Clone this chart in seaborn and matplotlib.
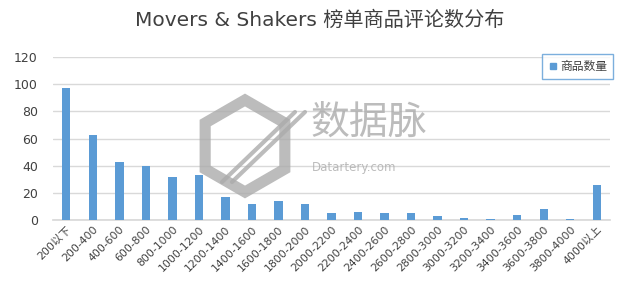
import matplotlib
matplotlib.use("Agg")
import matplotlib.pyplot as plt
import seaborn as sns
import pandas as pd
import numpy as np
from matplotlib.patches import RegularPolygon
from matplotlib.lines import Line2D

categories = ["200以下", "200-400", "400-600", "600-800", "800-1000", "1000-1200",
              "1200-1400", "1400-1600", "1600-1800", "1800-2000", "2000-2200",
              "2200-2400", "2400-2600", "2600-2800", "2800-3000", "3000-3200",
              "3200-3400", "3400-3600", "3600-3800", "3800-4000", "4000以上"]
counts = [97, 63, 43, 40, 32, 33, 17, 12, 14, 12, 5, 6, 5, 5, 3, 1.5, 1, 4, 8, 1, 26]
series_name = "商品数量"
title = "Movers & Shakers 榜单商品评论数分布"
yticks = [0, 20, 40, 60, 80, 100, 120]

sns.set_theme(style="white")
plt.rcParams['font.family'] = ['DejaVu Sans', 'Noto Sans CJK SC']

df = pd.DataFrame({"cat": categories, "val": counts})

fig = plt.figure(figsize=(6.4, 2.93), dpi=100)
ax = fig.add_axes([0.083, 0.249, 0.87, 0.556])

bar_color = "#5B9BD5"
sns.barplot(data=df, x="cat", y="val", color=bar_color, width=0.31, ax=ax,
            saturation=1, zorder=3, edgecolor="none", linewidth=0)

ax.set_xlim(-0.5, len(categories) - 0.5)
ax.set_ylim(0, 120)
ax.set_yticks(yticks)
ax.set_yticklabels([str(v) for v in yticks], fontsize=9, color="#404040")
ax.grid(axis="y", color="#D9D9D9", linewidth=1, zorder=0)
ax.set_axisbelow(True)
for s in ["top", "right", "left"]:
    ax.spines[s].set_visible(False)
ax.spines["bottom"].set_color("#D9D9D9")
ax.tick_params(axis="y", length=0, pad=11)
ax.tick_params(axis="x", length=0, pad=3)
ax.set_xlabel("")
ax.set_ylabel("")
ax.set_xticks(range(len(categories)))
ax.set_xticklabels(categories, rotation=45, ha="right", rotation_mode="anchor",
                   fontsize=7.8, color="#404040",
                   family=['DejaVu Sans', 'Noto Sans CJK SC'])

fig.text(0.5, 0.93, title, ha="center", va="center", fontsize=14.5, color="#404040",
         family=['DejaVu Sans', 'Noto Sans CJK SC'])

# legend
handle = Line2D([], [], marker="s", linestyle="none", color=bar_color, markersize=5)
leg = fig.legend([handle], [series_name], loc="upper right",
                 bbox_to_anchor=(0.967, 0.835), frameon=True,
                 fancybox=False, handletextpad=0.2, borderpad=0.5, handlelength=0.8,
                 prop={'family': ['Noto Sans CJK SC'], 'size': 8.5})
leg.get_frame().set_edgecolor(bar_color)
leg.get_frame().set_linewidth(1)
for t in leg.get_texts():
    t.set_color("#404040")

# watermark
wax = fig.add_axes([0, 0, 1, 1], zorder=5)
wax.set_xlim(0, 640)
wax.set_ylim(293, 0)
wax.axis("off")
wm = "#ABABAB"
hexagon = RegularPolygon((245, 146), numVertices=6, radius=46, orientation=0,
                         fill=False, edgecolor=wm, linewidth=8, alpha=0.8)
wax.add_patch(hexagon)
for dx in (0, 10):
    wax.plot([222 + dx, 295 + dx], [182, 112], color=wm, linewidth=3, alpha=0.8)
wax.text(310, 124, "数据脉", fontsize=28, color=wm, alpha=0.8, va="center",
         ha="left", family=['Noto Sans CJK SC'])
wax.text(312, 167, "Datartery.com", fontsize=8.5, color=wm, alpha=0.8,
         va="center", ha="left")

fig.savefig("out.png", dpi=100, facecolor="white")
